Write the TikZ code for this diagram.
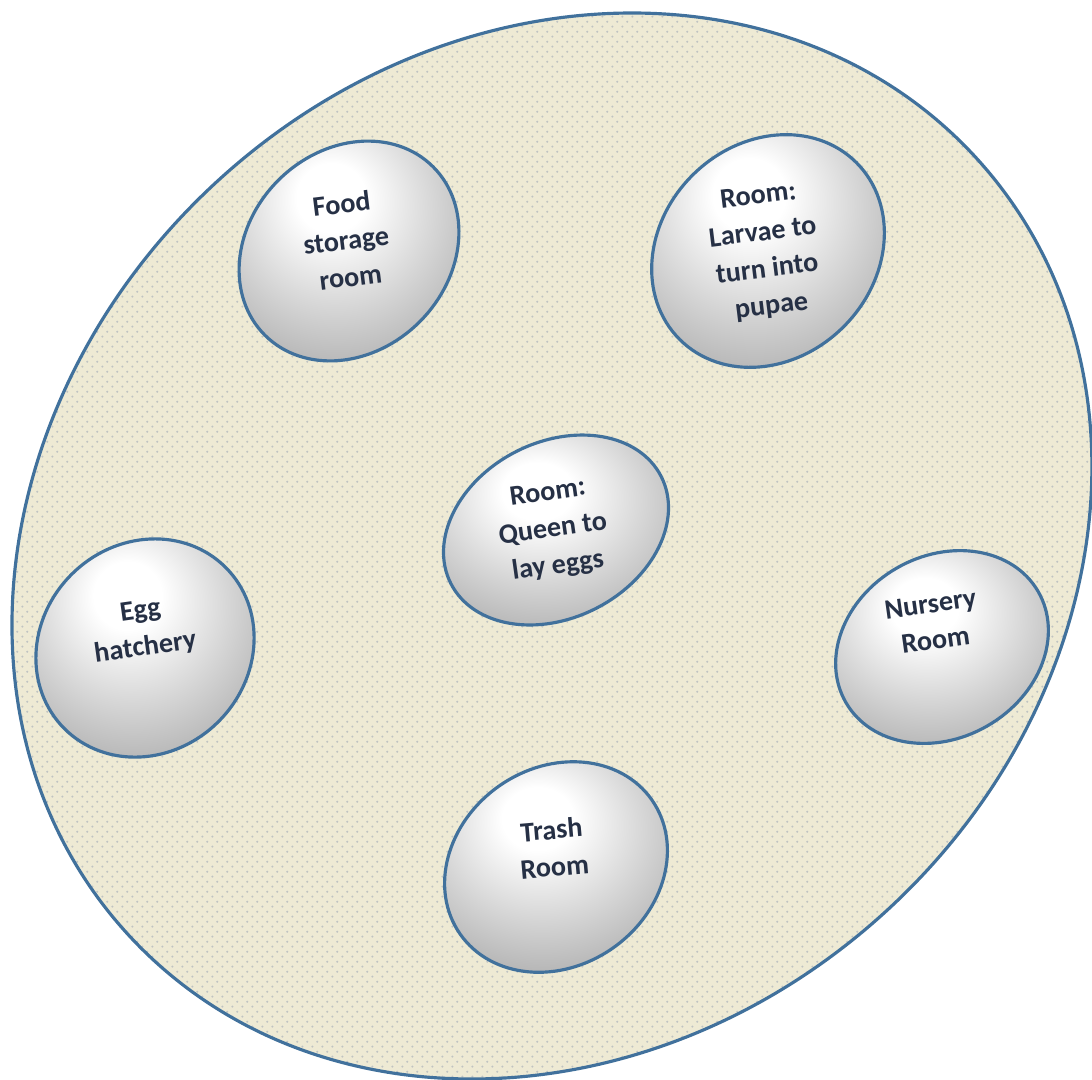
\documentclass[tikz,border=0pt]{standalone}
\usepackage{fontspec}
\setmainfont{Carlito}
\usetikzlibrary{patterns.meta}
\definecolor{outl}{HTML}{41719C}
\definecolor{beige}{HTML}{EEEAD4}
\definecolor{dotc}{HTML}{BFC3C2}
\definecolor{txtc}{HTML}{263045}
\pgfdeclareradialshading{roomshade}{\pgfpoint{-4bp}{12bp}}{%
  color(0bp)=(white); color(7bp)=(white); color(20bp)=(black!16);
  color(34bp)=(black!33); color(46bp)=(black!46); color(70bp)=(black!52)}
\tikzdeclarepattern{
  name=beigedots,
  type=uncolored,
  bounding box={(0pt,0pt) and (2.8pt,2.8pt)},
  tile size={(2.8pt,2.8pt)},
  code={
    \fill (0.7pt,0.7pt) circle (0.33pt);
    \fill (2.1pt,2.1pt) circle (0.33pt);
  }
}
\tikzset{
  roomtext/.style={align=center, text=txtc, inner sep=0pt,
    font=\fontsize{8}{10.5}\selectfont\bfseries},
  roomball/.style={draw=outl, line width=0.9pt, shading=roomshade},
}
\begin{document}
\begin{tikzpicture}[x=0.01cm, y=-0.01cm]
\useasboundingbox (0,0) rectangle (1092,1079);
% colony outline
\coordinate (bigc) at (552,546);
\fill[beige, rotate around={42.5:(bigc)}] (bigc) ellipse [x radius=575, y radius=495];
\fill[pattern=beigedots, pattern color=dotc, rotate around={42.5:(bigc)}] (bigc) ellipse [x radius=575, y radius=495];
\draw[outl, line width=0.9pt, rotate around={42.5:(bigc)}] (bigc) ellipse [x radius=575, y radius=495];
% rooms
\coordinate (foodc) at (349,251);
\coordinate (larvc) at (768,251);
\coordinate (queenc) at (556,530);
\coordinate (eggc) at (145,648);
\coordinate (nursc) at (942,647);
\coordinate (trashc) at (556,867);
\path[roomball, rotate around={45:(foodc)}] (foodc) ellipse [x radius=119, y radius=100];
\path[roomball, rotate around={45:(larvc)}] (larvc) ellipse [x radius=125, y radius=107];
\path[roomball, rotate around={27:(queenc)}] (queenc) ellipse [x radius=118, y radius=88];
\path[roomball, rotate around={45:(eggc)}] (eggc) ellipse [x radius=114, y radius=104];
\path[roomball, rotate around={30:(nursc)}] (nursc) ellipse [x radius=111, y radius=91];
\path[roomball, rotate around={35:(trashc)}] (trashc) ellipse [x radius=117, y radius=99];
% labels
\node[roomtext, rotate=7] (food) at (346,240) {Food\\storage\\room};
\node[roomtext, rotate=7] (larv) at (765,252) {Room:\\Larvae to\\turn into\\pupae};
\node[roomtext, rotate=8] (queen) at (553,530) {Room:\\Queen to\\lay eggs};
\node[roomtext, rotate=8] (egg) at (143,630) {Egg\\hatchery};
\node[roomtext, rotate=8] (nurs) at (933,622) {Nursery\\Room};
\node[roomtext, rotate=5] (trash) at (553,848) {Trash\\Room};
\end{tikzpicture}
\end{document}
